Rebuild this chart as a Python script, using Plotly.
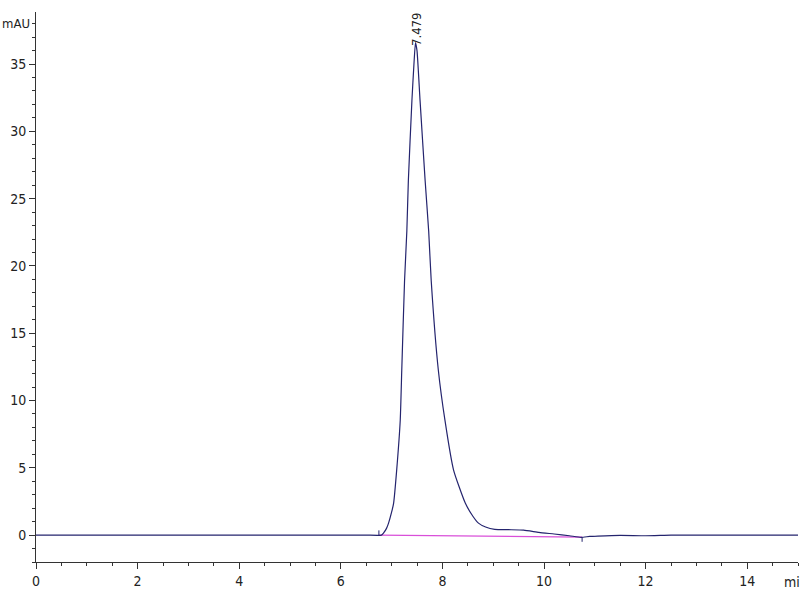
import plotly.graph_objects as go

# Chromatogram signal (time in min, absorbance in mAU)
time_min = [0, 1, 2, 3, 4, 5, 6, 6.5, 6.80, 6.84, 6.90, 6.94, 7.00, 7.04, 7.10,
            7.17, 7.20, 7.255, 7.30, 7.33, 7.40, 7.44, 7.47, 7.50, 7.56, 7.66,
            7.73, 7.78, 7.92, 8.05, 8.22, 8.45, 8.60, 8.71, 8.85, 9.03, 9.30,
            9.60, 9.90, 10.20, 10.50, 10.73, 10.90, 11.06, 11.50, 12.0, 12.5,
            13.0, 14.0, 15.0]
signal_mau = [0, 0, 0, 0, 0, 0, 0, 0, 0.0, 0.15, 0.5, 0.89, 1.7, 2.38, 4.83,
              8.54, 12.25, 18.9, 22.6, 26.35, 32.3, 35.0, 36.6, 36.0, 32.3, 26.35,
              22.6, 18.9, 12.25, 8.54, 4.83, 2.38, 1.4, 0.89, 0.6, 0.42, 0.40,
              0.37, 0.20, 0.08, -0.05, -0.17, -0.10, -0.07, -0.02, -0.05, 0.0,
              0.0, 0.0, 0.0]

# Integration baseline
baseline_time = [6.75, 10.75]
baseline_mau = [0.0, -0.15]

# Peak start / end markers
start_mark_time = [6.75, 6.75]
start_mark_mau = [0.0, 0.35]
end_mark_time = [10.75, 10.75]
end_mark_mau = [-0.15, -0.5]

peak_time = 7.479
peak_label = "7.479"

line_color = "#24246e"
font_family = "DejaVu Sans Condensed, Liberation Sans Narrow, Arial Narrow, Liberation Sans, sans-serif"

fig = go.Figure()
fig.add_trace(go.Scatter(x=baseline_time, y=baseline_mau, mode="lines",
                         line=dict(color="#d94fd9", width=1.2), hoverinfo="skip"))
fig.add_trace(go.Scatter(x=time_min, y=signal_mau, mode="lines",
                         line=dict(color=line_color, width=1.2, shape="spline", smoothing=0.5)))
fig.add_trace(go.Scatter(x=start_mark_time, y=start_mark_mau, mode="lines",
                         line=dict(color=line_color, width=1)))
fig.add_trace(go.Scatter(x=end_mark_time, y=end_mark_mau, mode="lines",
                         line=dict(color=line_color, width=1)))

fig.add_annotation(x=peak_time, y=37.6, text=peak_label, textangle=-90,
                   showarrow=False, xref="x", yref="y",
                   font=dict(family=font_family, size=13, color="#222"))
fig.add_annotation(x=0, y=1.0, xref="paper", yref="paper", text="mAU",
                   showarrow=False, xanchor="left", yanchor="middle",
                   xshift=-36, yshift=-11,
                   font=dict(family=font_family, size=13, color="#222"))
fig.add_annotation(x=1.0, y=0, xref="paper", yref="paper", text="min",
                   showarrow=False, xanchor="left", yanchor="top",
                   xshift=-16, yshift=-10,
                   font=dict(family=font_family, size=14, color="#222"))

axis_common = dict(showgrid=False, zeroline=False, showline=True,
                   linecolor="#333", linewidth=1, ticks="outside",
                   tickcolor="#333", ticklen=6, tickwidth=1, automargin=False,
                   tickfont=dict(family=font_family, size=14, color="#222"))

fig.update_xaxes(range=[0, 15], dtick=2, tick0=0,
                 minor=dict(dtick=0.5, ticks="outside", ticklen=3, tickcolor="#333"),
                 **axis_common)
fig.update_yaxes(range=[-2, 38.87], dtick=5, tick0=0,
                 minor=dict(dtick=1, ticks="outside", ticklen=3, tickcolor="#333"),
                 **axis_common)

fig.update_layout(width=800, height=600, showlegend=False,
                  plot_bgcolor="white", paper_bgcolor="white",
                  margin=dict(l=36, r=2, t=12, b=38))

fig.write_html("out.html", config={"displayModeBar": False},
               post_script="document.body.style.margin='0';document.body.style.overflow='hidden';")
